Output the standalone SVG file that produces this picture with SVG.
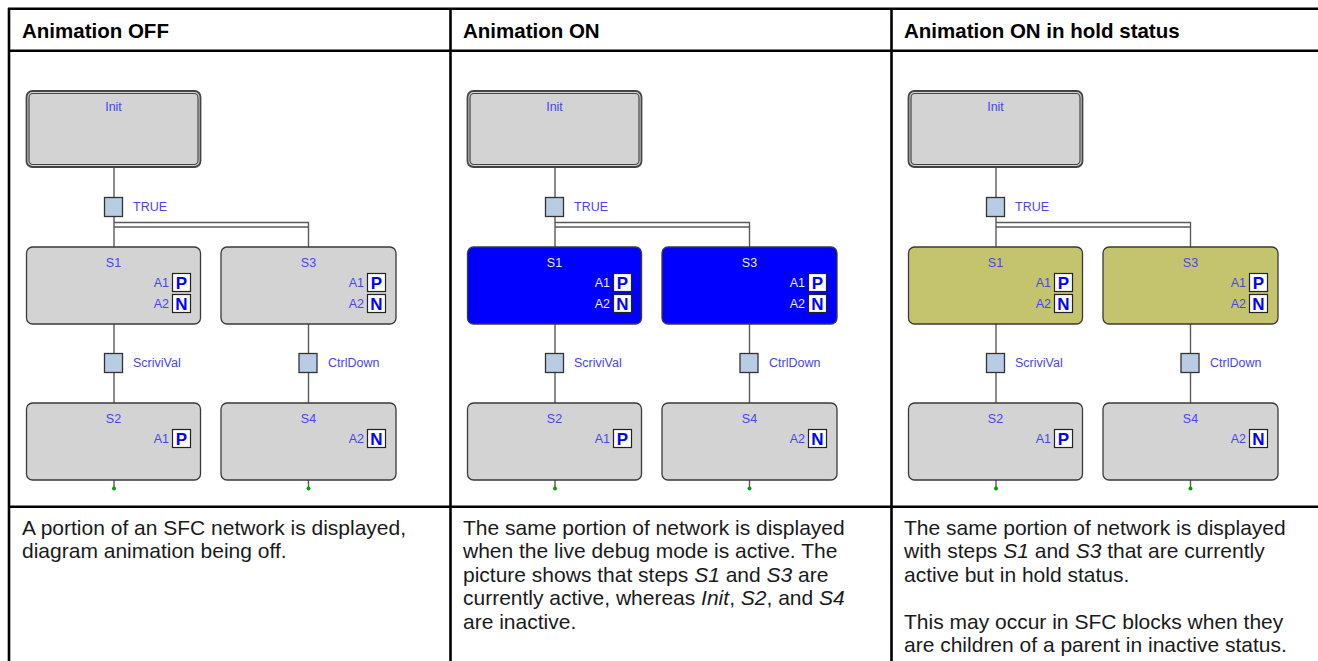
<svg xmlns="http://www.w3.org/2000/svg" width="1318" height="661" viewBox="0 0 1318 661">
<style>
.grid{stroke:#000;stroke-width:2.6;fill:none}
.hdr{font-family:"Liberation Sans",Arial,sans-serif;font-weight:bold;font-size:20.5px;fill:#000}
.body{font-family:"Liberation Sans",Arial,sans-serif;font-size:21px;fill:#1a1a1a}
.step{fill:#d3d3d3;stroke:#3a3a3a;stroke-width:1.3}
.stepA{fill:#0000ff;stroke:#3a3a3a;stroke-width:1.3}
.stepH{fill:#c4c46f;stroke:#3a3a3a;stroke-width:1.3}
.initO{fill:#d3d3d3;stroke:#444;stroke-width:1.8}
.initI{fill:none;stroke:#444;stroke-width:1.2}
.lbl{font-family:"Liberation Sans",Arial,sans-serif;font-size:12.5px;fill:#4646f0}
.lblW{font-family:"Liberation Sans",Arial,sans-serif;font-size:12.5px;fill:#e8e8ff}
.qual{fill:#fff;stroke:#222;stroke-width:1.2}
.qt{font-family:"Liberation Sans",Arial,sans-serif;font-weight:bold;font-size:17px;fill:#0000ff}
.tr{fill:#b8cce4;stroke:#333;stroke-width:1.3}
.wire{fill:none;stroke:#5a5a5a;stroke-width:1.4}
.dot{fill:#00a000}
</style>
<rect x="0" y="0" width="1318" height="661" fill="#fff"/>
<g id="table">
<path class="grid" d="M8 8.7H1318M8 50.7H1318M8 506.7H1318M9 8V661M450.5 8V661M891.5 8V661"/>
<text class="hdr" x="22" y="38">Animation OFF</text>
<text class="hdr" x="463" y="38">Animation ON</text>
<text class="hdr" x="904" y="38">Animation ON in hold status</text>
<text class="body" x="22" y="534.5">A portion of an SFC network is displayed,</text>
<text class="body" x="22" y="558">diagram animation being off.</text>
<text class="body" x="463" y="534.5">The same portion of network is displayed</text>
<text class="body" x="463" y="558">when the live debug mode is active. The</text>
<text class="body" x="463" y="581.5">picture shows that steps <tspan font-style="italic">S1</tspan> and <tspan font-style="italic">S3</tspan> are</text>
<text class="body" x="463" y="605">currently active, whereas <tspan font-style="italic">Init</tspan>, <tspan font-style="italic">S2</tspan>, and <tspan font-style="italic">S4</tspan></text>
<text class="body" x="463" y="628.5">are inactive.</text>
<text class="body" x="904" y="534.5">The same portion of network is displayed</text>
<text class="body" x="904" y="558">with steps <tspan font-style="italic">S1</tspan> and <tspan font-style="italic">S3</tspan> that are currently</text>
<text class="body" x="904" y="581.5">active but in hold status.</text>
<text class="body" x="904" y="628.5">This may occur in SFC blocks when they</text>
<text class="body" x="904" y="652">are children of a parent in inactive status.</text>
</g>

<!-- Panel 1 -->
<g id="p1-connectors">
<path class="wire" d="M114 167V197.5M114 216.5V247M114 222.5H308.5V247M114 227H308.5M114 324V353.5M114 372.5V403M308.5 324V353.5M308.5 372.5V403M114 480V488M308.5 480V488"/>
<circle class="dot" cx="114" cy="488.5" r="2"/>
<circle class="dot" cx="308.5" cy="488.5" r="2"/>
</g>
<g id="p1-init"><rect class="initO" x="26.5" y="91" width="174" height="76" rx="6"/><rect class="initI" x="29" y="93.5" width="169" height="71" rx="4"/><text class="lbl" x="113.5" y="110.5" text-anchor="middle">Init</text></g>
<g id="p1-t1"><rect class="tr" x="104.5" y="197.5" width="18" height="19"/><text class="lbl" x="133" y="210.5">TRUE</text></g>
<g id="p1-s1"><rect class="step" x="26.5" y="247" width="174" height="77" rx="6"/><text class="lbl" x="113.5" y="266.5" text-anchor="middle">S1</text>
<text class="lbl" x="169" y="287" text-anchor="end">A1</text><rect class="qual" x="172.5" y="273.5" width="18" height="18"/><text class="qt" x="181.5" y="289" text-anchor="middle">P</text>
<text class="lbl" x="169" y="308" text-anchor="end">A2</text><rect class="qual" x="172.5" y="294.5" width="18" height="18"/><text class="qt" x="181.5" y="310" text-anchor="middle">N</text></g>
<g id="p1-s3"><rect class="step" x="221" y="247" width="175" height="77" rx="6"/><text class="lbl" x="308.5" y="266.5" text-anchor="middle">S3</text>
<text class="lbl" x="364" y="287" text-anchor="end">A1</text><rect class="qual" x="367.5" y="273.5" width="18" height="18"/><text class="qt" x="376.5" y="289" text-anchor="middle">P</text>
<text class="lbl" x="364" y="308" text-anchor="end">A2</text><rect class="qual" x="367.5" y="294.5" width="18" height="18"/><text class="qt" x="376.5" y="310" text-anchor="middle">N</text></g>
<g id="p1-t2"><rect class="tr" x="104.5" y="353.5" width="18" height="19"/><text class="lbl" x="133" y="366.5">ScriviVal</text></g>
<g id="p1-t3"><rect class="tr" x="299" y="353.5" width="18" height="19"/><text class="lbl" x="328" y="366.5">CtrlDown</text></g>
<g id="p1-s2"><rect class="step" x="26.5" y="403" width="174" height="77" rx="6"/><text class="lbl" x="113.5" y="422.5" text-anchor="middle">S2</text>
<text class="lbl" x="169" y="443" text-anchor="end">A1</text><rect class="qual" x="172.5" y="429.5" width="18" height="18"/><text class="qt" x="181.5" y="445" text-anchor="middle">P</text></g>
<g id="p1-s4"><rect class="step" x="221" y="403" width="175" height="77" rx="6"/><text class="lbl" x="308.5" y="422.5" text-anchor="middle">S4</text>
<text class="lbl" x="364" y="443" text-anchor="end">A2</text><rect class="qual" x="367.5" y="429.5" width="18" height="18"/><text class="qt" x="376.5" y="445" text-anchor="middle">N</text></g>

<!-- Panel 2 -->
<g transform="translate(441 0)">
<g id="p2-connectors">
<path class="wire" d="M114 167V197.5M114 216.5V247M114 222.5H308.5V247M114 227H308.5M114 324V353.5M114 372.5V403M308.5 324V353.5M308.5 372.5V403M114 480V488M308.5 480V488"/>
<circle class="dot" cx="114" cy="488.5" r="2"/>
<circle class="dot" cx="308.5" cy="488.5" r="2"/>
</g>
<g id="p2-init"><rect class="initO" x="26.5" y="91" width="174" height="76" rx="6"/><rect class="initI" x="29" y="93.5" width="169" height="71" rx="4"/><text class="lbl" x="113.5" y="110.5" text-anchor="middle">Init</text></g>
<g id="p2-t1"><rect class="tr" x="104.5" y="197.5" width="18" height="19"/><text class="lbl" x="133" y="210.5">TRUE</text></g>
<g id="p2-s1"><rect class="stepA" x="26.5" y="247" width="174" height="77" rx="6"/><text class="lblW" x="113.5" y="266.5" text-anchor="middle">S1</text>
<text class="lblW" x="169" y="287" text-anchor="end">A1</text><rect class="qual" x="172.5" y="273.5" width="18" height="18"/><text class="qt" x="181.5" y="289" text-anchor="middle">P</text>
<text class="lblW" x="169" y="308" text-anchor="end">A2</text><rect class="qual" x="172.5" y="294.5" width="18" height="18"/><text class="qt" x="181.5" y="310" text-anchor="middle">N</text></g>
<g id="p2-s3"><rect class="stepA" x="221" y="247" width="175" height="77" rx="6"/><text class="lblW" x="308.5" y="266.5" text-anchor="middle">S3</text>
<text class="lblW" x="364" y="287" text-anchor="end">A1</text><rect class="qual" x="367.5" y="273.5" width="18" height="18"/><text class="qt" x="376.5" y="289" text-anchor="middle">P</text>
<text class="lblW" x="364" y="308" text-anchor="end">A2</text><rect class="qual" x="367.5" y="294.5" width="18" height="18"/><text class="qt" x="376.5" y="310" text-anchor="middle">N</text></g>
<g id="p2-t2"><rect class="tr" x="104.5" y="353.5" width="18" height="19"/><text class="lbl" x="133" y="366.5">ScriviVal</text></g>
<g id="p2-t3"><rect class="tr" x="299" y="353.5" width="18" height="19"/><text class="lbl" x="328" y="366.5">CtrlDown</text></g>
<g id="p2-s2"><rect class="step" x="26.5" y="403" width="174" height="77" rx="6"/><text class="lbl" x="113.5" y="422.5" text-anchor="middle">S2</text>
<text class="lbl" x="169" y="443" text-anchor="end">A1</text><rect class="qual" x="172.5" y="429.5" width="18" height="18"/><text class="qt" x="181.5" y="445" text-anchor="middle">P</text></g>
<g id="p2-s4"><rect class="step" x="221" y="403" width="175" height="77" rx="6"/><text class="lbl" x="308.5" y="422.5" text-anchor="middle">S4</text>
<text class="lbl" x="364" y="443" text-anchor="end">A2</text><rect class="qual" x="367.5" y="429.5" width="18" height="18"/><text class="qt" x="376.5" y="445" text-anchor="middle">N</text></g>
</g>

<!-- Panel 3 -->
<g transform="translate(882 0)">
<g id="p3-connectors">
<path class="wire" d="M114 167V197.5M114 216.5V247M114 222.5H308.5V247M114 227H308.5M114 324V353.5M114 372.5V403M308.5 324V353.5M308.5 372.5V403M114 480V488M308.5 480V488"/>
<circle class="dot" cx="114" cy="488.5" r="2"/>
<circle class="dot" cx="308.5" cy="488.5" r="2"/>
</g>
<g id="p3-init"><rect class="initO" x="26.5" y="91" width="174" height="76" rx="6"/><rect class="initI" x="29" y="93.5" width="169" height="71" rx="4"/><text class="lbl" x="113.5" y="110.5" text-anchor="middle">Init</text></g>
<g id="p3-t1"><rect class="tr" x="104.5" y="197.5" width="18" height="19"/><text class="lbl" x="133" y="210.5">TRUE</text></g>
<g id="p3-s1"><rect class="stepH" x="26.5" y="247" width="174" height="77" rx="6"/><text class="lbl" x="113.5" y="266.5" text-anchor="middle">S1</text>
<text class="lbl" x="169" y="287" text-anchor="end">A1</text><rect class="qual" x="172.5" y="273.5" width="18" height="18"/><text class="qt" x="181.5" y="289" text-anchor="middle">P</text>
<text class="lbl" x="169" y="308" text-anchor="end">A2</text><rect class="qual" x="172.5" y="294.5" width="18" height="18"/><text class="qt" x="181.5" y="310" text-anchor="middle">N</text></g>
<g id="p3-s3"><rect class="stepH" x="221" y="247" width="175" height="77" rx="6"/><text class="lbl" x="308.5" y="266.5" text-anchor="middle">S3</text>
<text class="lbl" x="364" y="287" text-anchor="end">A1</text><rect class="qual" x="367.5" y="273.5" width="18" height="18"/><text class="qt" x="376.5" y="289" text-anchor="middle">P</text>
<text class="lbl" x="364" y="308" text-anchor="end">A2</text><rect class="qual" x="367.5" y="294.5" width="18" height="18"/><text class="qt" x="376.5" y="310" text-anchor="middle">N</text></g>
<g id="p3-t2"><rect class="tr" x="104.5" y="353.5" width="18" height="19"/><text class="lbl" x="133" y="366.5">ScriviVal</text></g>
<g id="p3-t3"><rect class="tr" x="299" y="353.5" width="18" height="19"/><text class="lbl" x="328" y="366.5">CtrlDown</text></g>
<g id="p3-s2"><rect class="step" x="26.5" y="403" width="174" height="77" rx="6"/><text class="lbl" x="113.5" y="422.5" text-anchor="middle">S2</text>
<text class="lbl" x="169" y="443" text-anchor="end">A1</text><rect class="qual" x="172.5" y="429.5" width="18" height="18"/><text class="qt" x="181.5" y="445" text-anchor="middle">P</text></g>
<g id="p3-s4"><rect class="step" x="221" y="403" width="175" height="77" rx="6"/><text class="lbl" x="308.5" y="422.5" text-anchor="middle">S4</text>
<text class="lbl" x="364" y="443" text-anchor="end">A2</text><rect class="qual" x="367.5" y="429.5" width="18" height="18"/><text class="qt" x="376.5" y="445" text-anchor="middle">N</text></g>
</g>
</svg>
